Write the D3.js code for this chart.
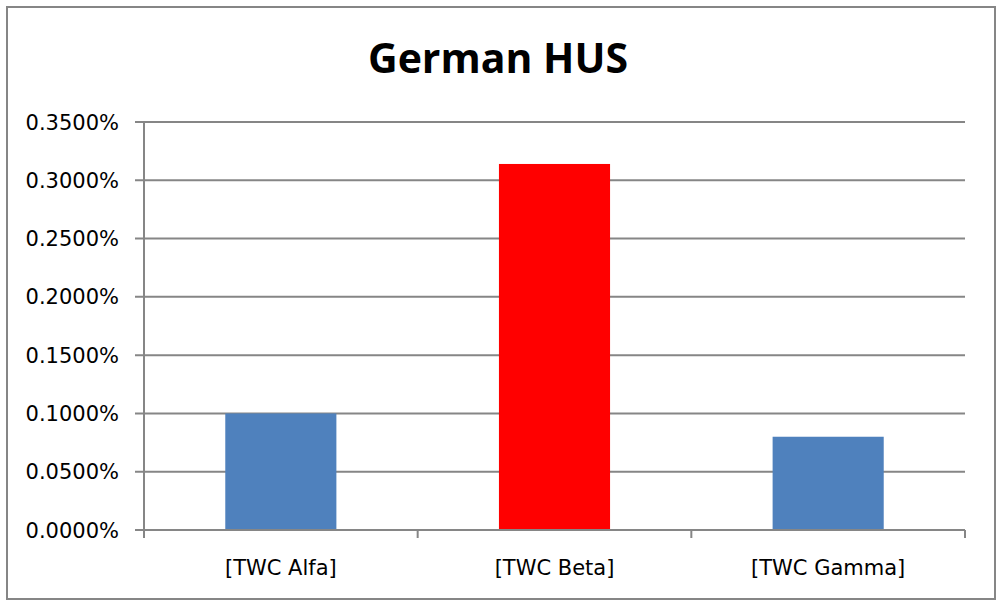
<!DOCTYPE html>
<html>
<head>
<meta charset="utf-8">
<script src="https://cdn.jsdelivr.net/npm/d3@7"></script>
<style>
  body { margin: 0; background: #fff; }
  .tick-label { font-family: "DejaVu Sans", sans-serif; font-size: 21px; fill: #000; }
  .title { font-family: "Open Sans", sans-serif; font-weight: bold; font-size: 41px; fill: #000; }
</style>
</head>
<body>
<div id="chart"></div>
<script>
//Data
const categories = ["[TWC Alfa]", "[TWC Beta]", "[TWC Gamma]"]
const values = [0.0010, 0.00314, 0.0008]
const barColors = ["#4f81bd", "#ff0000", "#4f81bd"]
const yTicks = [0, 0.0005, 0.001, 0.0015, 0.002, 0.0025, 0.003, 0.0035]

const W = 1000, H = 606
const plot = { left: 144, right: 965, top: 122, bottom: 530 }
const lineColor = "#868686"

const svg = d3.select("#chart").append("svg")
    .attr("width", W)
    .attr("height", H)

//Outer chart frame
svg.append("rect")
    .attr("x", 7).attr("y", 7)
    .attr("width", 988).attr("height", 592)
    .attr("fill", "none")
    .attr("stroke", lineColor)
    .attr("stroke-width", 2)

//Title
svg.append("text")
    .attr("class", "title")
    .attr("x", 498).attr("y", 73)
    .attr("text-anchor", "middle")
    .text("German HUS")

//Scales
const y = d3.scaleLinear()
    .domain([0, 0.0035])
    .range([plot.bottom, plot.top])

const xSlot = d3.scaleBand()
    .domain(categories)
    .range([plot.left, plot.right])

const xBar = xSlot.copy()
    .paddingInner(0.594)
    .paddingOuter(0.297)

//Gridlines (with outward tick part)
svg.append("g")
    .selectAll("line")
    .data(yTicks)
    .enter().append("line")
    .attr("x1", plot.left - 9)
    .attr("x2", plot.right)
    .attr("y1", d => y(d))
    .attr("y2", d => y(d))
    .attr("stroke", lineColor)
    .attr("stroke-width", 2)

//Y labels
const fmt = d3.format(".4%")
svg.append("g")
    .selectAll("text")
    .data(yTicks)
    .enter().append("text")
    .attr("class", "tick-label")
    .attr("x", 119)
    .attr("y", d => y(d))
    .attr("dy", "0.36em")
    .attr("text-anchor", "end")
    .text(d => fmt(d))

//Bars
svg.append("g")
    .selectAll("rect")
    .data(values)
    .enter().append("rect")
    .attr("x", (d, i) => xBar(categories[i]))
    .attr("width", xBar.bandwidth())
    .attr("y", d => y(d))
    .attr("height", d => y(0) - y(d))
    .attr("fill", (d, i) => barColors[i])

//Y axis line
svg.append("line")
    .attr("x1", plot.left).attr("x2", plot.left)
    .attr("y1", plot.top).attr("y2", plot.bottom + 8)
    .attr("stroke", lineColor)
    .attr("stroke-width", 2)

//X axis line
svg.append("line")
    .attr("x1", plot.left - 9).attr("x2", plot.right)
    .attr("y1", plot.bottom).attr("y2", plot.bottom)
    .attr("stroke", lineColor)
    .attr("stroke-width", 2)

//Category boundary ticks
const boundaries = categories.map(c => xSlot(c)).concat([plot.right])
svg.append("g")
    .selectAll("line")
    .data(boundaries)
    .enter().append("line")
    .attr("x1", d => d).attr("x2", d => d)
    .attr("y1", plot.bottom).attr("y2", plot.bottom + 8)
    .attr("stroke", lineColor)
    .attr("stroke-width", 2)

//Category labels
svg.append("g")
    .selectAll("text")
    .data(categories)
    .enter().append("text")
    .attr("class", "tick-label")
    .attr("x", d => xSlot(d) + xSlot.bandwidth() / 2)
    .attr("y", 575)
    .attr("text-anchor", "middle")
    .text(d => d)
</script>
</body>
</html>
